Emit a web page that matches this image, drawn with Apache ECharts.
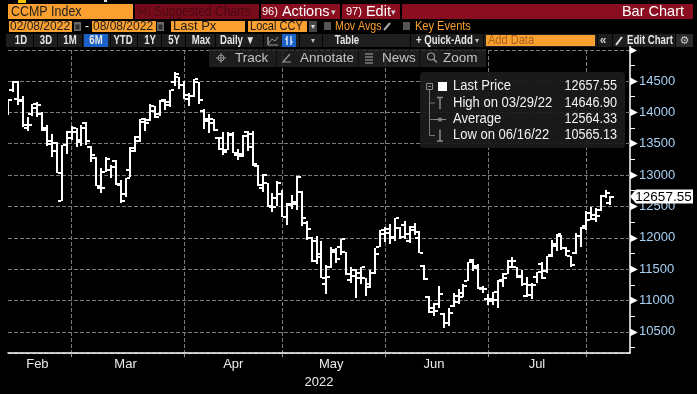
<!DOCTYPE html>
<html><head><meta charset="utf-8">
<script src="https://cdn.jsdelivr.net/npm/echarts@6/dist/echarts.min.js"></script>
<style>html,body{margin:0;padding:0;background:#000;}#c{width:697px;height:394px;}</style>
</head><body><div id="c"></div>
<script>
// ---------- DATA ----------
const dates = [
'2022-02-08','2022-02-09','2022-02-10','2022-02-11','2022-02-14','2022-02-15','2022-02-16','2022-02-17','2022-02-18','2022-02-22','2022-02-23','2022-02-24','2022-02-25','2022-02-28',
'2022-03-01','2022-03-02','2022-03-03','2022-03-04','2022-03-07','2022-03-08','2022-03-09','2022-03-10','2022-03-11','2022-03-14','2022-03-15','2022-03-16','2022-03-17','2022-03-18','2022-03-21','2022-03-22','2022-03-23','2022-03-24','2022-03-25','2022-03-28','2022-03-29','2022-03-30','2022-03-31',
'2022-04-01','2022-04-04','2022-04-05','2022-04-06','2022-04-07','2022-04-08','2022-04-11','2022-04-12','2022-04-13','2022-04-14','2022-04-18','2022-04-19','2022-04-20','2022-04-21','2022-04-22','2022-04-25','2022-04-26','2022-04-27','2022-04-28','2022-04-29',
'2022-05-02','2022-05-03','2022-05-04','2022-05-05','2022-05-06','2022-05-09','2022-05-10','2022-05-11','2022-05-12','2022-05-13','2022-05-16','2022-05-17','2022-05-18','2022-05-19','2022-05-20','2022-05-23','2022-05-24','2022-05-25','2022-05-26','2022-05-27','2022-05-31',
'2022-06-01','2022-06-02','2022-06-03','2022-06-06','2022-06-07','2022-06-08','2022-06-09','2022-06-10','2022-06-13','2022-06-14','2022-06-15','2022-06-16','2022-06-17','2022-06-21','2022-06-22','2022-06-23','2022-06-24','2022-06-27','2022-06-28','2022-06-29','2022-06-30',
'2022-07-01','2022-07-05','2022-07-06','2022-07-07','2022-07-08','2022-07-11','2022-07-12','2022-07-13','2022-07-14','2022-07-15','2022-07-18','2022-07-19','2022-07-20','2022-07-21','2022-07-22','2022-07-25','2022-07-26','2022-07-27','2022-07-28','2022-07-29',
'2022-08-01','2022-08-02','2022-08-03','2022-08-04','2022-08-05'];
const opens = [
14020,14364,14221,14196,13750,13981,14062,13978,13752,13501,13518,12587,13483,13593,
13679,13566,13837,13447,13272,12786,13050,13079,13224,12857,12690,13088,13382,13548,13852,13882,14017,13977,14187,14120,14479,14557,14436,
14274,14265,14479,14027,13856,13832,13591,13594,13399,13658,13314,13306,13691,13658,13144,12790,12879,12507,12640,12692,
12334,12516,12545,12733,12231,11990,11942,11693,11263,11533,11766,11857,11766,11322,11484,11441,11361,11213,11431,11850,12057,
12140,12011,12158,12198,11953,12124,12001,11546,11058,10887,10939,10778,10648,10906,10972,11120,11311,11650,11547,11196,11018,
10996,11008,11317,11423,11538,11536,11384,11068,11085,11366,11587,11476,11717,11863,12029,11835,11712,11756,12034,12185,
12281,12307,12440,12674,12556];
const highs = [
14217,14498,14508,14269,13923,14140,14172,14012,13794,13649,13528,13484,13698,13784,
13743,13798,13849,13464,13291,13116,13282,13168,13241,12917,12960,13445,13622,13894,13918,14136,14101,14194,14220,14355,14646.90,14568,14496,
14313,14539,14485,14047,13982,13887,13605,13691,13684,13680,13420,13644,13706,13710,13163,13013,12880,12717,12909,12765,
12548,12676,12983,12747,12273,12015,12025,11948,11573,11856,11837,11984,11768,11536,11506,11536,11361,11478,11836,12131,12165,
12224,12320,12175,12272,12187,12229,12108,11562,11064,10963,11234,10800,10877,11111,11180,11256,11608,11662,11575,11233,11096,
11135,11332,11432,11640,11698,11540,11483,11378,11282,11454,11611,11713,11959,12060,12042,11857,11712,12081,12174,12424,
12491,12474,12678,12755,12667];
const lows = [
13959,14324,14111,13762,13710,13948,13923,13700,13466,13286,13032,12587,13334,13556,
13443,13471,13479,13204,12830,12707,13050,12951,12835,12555,12648,12964,13363,13530,13704,13865,13917,13942,14030,14083,14419,14371,14220,
14098,14250,14137,13738,13673,13703,13398,13326,13394,13344,13242,13287,13376,13139,12833,12734,12490,12414,12507,12332,
12202,12458,12450,12193,11965,11610,11578,11364,11109,11524,11602,11728,11400,11276,11036,11262,11074,11192,11428,11850,11934,
11903,11947,11985,11973,11923,12041,11754,11326,10798,10752,10885,10565.13,10600,10900,10949,11051,11311,11464,11178,11119,10932,
10922,10880,11218,11417,11525,11359,11225,11049,11020,11274,11335,11437,11693,11781,11812,11711,11541,11740,11852,12130,
12278,12256,12426,12632,12522];
const closes = [
14194.45,14490.37,14185.64,13791.15,13790.92,14139.76,14124.09,13716.72,13548.07,13381.52,13037.49,13473.59,13694.62,13751.40,
13532.46,13752.02,13537.94,13313.44,12830.96,12795.55,13255.55,13129.96,12843.81,12581.22,12948.62,13436.55,13614.78,13893.84,13838.46,14108.82,13922.60,14191.84,14169.30,14354.90,14619.64,14442.27,14220.52,
14261.50,14532.55,14204.17,13888.82,13897.30,13711.00,13411.96,13371.57,13643.59,13351.08,13332.36,13619.66,13453.07,13174.65,12839.29,13004.85,12490.74,12488.93,12871.53,12334.64,
12536.02,12563.76,12964.86,12317.69,12144.66,11623.25,11737.67,11364.24,11370.96,11805.00,11662.79,11984.52,11418.15,11388.50,11354.62,11535.27,11264.45,11434.74,11740.65,12131.13,12081.39,
11994.46,12316.90,12012.73,12061.37,12175.23,12086.27,11754.23,11340.02,10809.23,10828.35,11099.15,10646.10,10798.35,11069.30,11053.08,11232.19,11607.62,11524.55,11181.54,11177.89,11028.74,
11127.85,11322.24,11361.85,11621.35,11635.31,11372.60,11264.73,11247.58,11251.19,11452.42,11360.05,11713.15,11897.65,12059.61,11834.11,11782.67,11562.58,12032.42,12162.59,12390.69,
12368.98,12348.76,12668.16,12720.58,12657.55];
const monthNames = ['Jan','Feb','Mar','Apr','May','Jun','Jul','Aug','Sep','Oct','Nov','Dec'];
const yTicks = [10500,11000,11500,12000,12500,13000,13500,14000,14500];
const yearLabel = '2022';
const legendLabels = ['Last Price','High on 03/29/22','Average','Low on 06/16/22'];
const legendValues = ['12657.55','14646.90','12564.33','10565.13'];
const lastPriceText = '12657.55';

// ---------- LAYOUT / STYLE ----------
const FONT = '"Liberation Sans", Arial, sans-serif';
const ORANGE = '#f9a030';
const GRIDC = '#7a7a7a';
const Y_MIN = 10160, Y_MAX = 14995;
const PAD = 4;

const cats = dates.concat(new Array(PAD).fill(''));
const monthEnds = new Set();
const labelAt = new Map();
(function(){
  let start = 0;
  for (let i = 0; i < dates.length - 1; i++) {
    if (dates[i].slice(5,7) !== dates[i+1].slice(5,7)) {
      monthEnds.add(i);
      labelAt.set(Math.floor((start + i) / 2), monthNames[+dates[i].slice(5,7) - 1]);
      start = i;
    }
  }
})();

const G = [];
function R(x,y,w,h,fill,r){ G.push({type:'rect',silent:true,z:50,shape:{x:x,y:y,width:w,height:h,r:r||0},style:{fill:fill}}); }
function T(x,y,text,o,sx){ G.push({type:'text',silent:true,z:52,x:x,y:y,scaleX:sx||1,style:Object.assign({text:text,fill:'#fff',font:'13px '+FONT,align:'left',verticalAlign:'middle'},o||{})}); }
function L(pts,stroke,w){ G.push({type:'polyline',silent:true,z:52,shape:{points:pts},style:{stroke:stroke,lineWidth:w||1,fill:null}}); }

// Row 0
R(18,0,8,3,'#f5c400'); R(104,0,3,2,'#ddd');
// Row 1
R(8,4,125,15,ORANGE); T(11,12,'CCMP Index',{fill:'#1c1c1c',font:'15px '+FONT},0.83);
R(135,4,124,15,'#780b1b'); T(137,12,'{a|94)} Suggested Charts',{fill:'#4c0912',font:'14px '+FONT,rich:{a:{fontSize:11,fill:'#4c0912',fontFamily:FONT}}},0.86);
R(261,4,79,15,'#8a0e20'); T(262,12,'{a|96)} Actions',{font:'14.5px '+FONT,rich:{a:{fontSize:11,fill:'#fff',fontFamily:FONT}}}); T(331,12.5,'▾',{fill:'#cfcfcf',font:'9px "DejaVu Sans"'});
R(342,4,58,15,'#8a0e20'); T(346,12,'{a|97)} Edit',{font:'14.5px '+FONT,rich:{a:{fontSize:11,fill:'#fff',fontFamily:FONT}}}); T(391,12.5,'▾',{fill:'#cfcfcf',font:'9px "DejaVu Sans"'});
R(402,4,291,15,'#8a0e20'); T(684,12,'Bar Chart',{align:'right',font:'14.5px '+FONT});
// Row 2
R(9,21,63,11,ORANGE); T(10,26.8,'02/08/2022',{fill:'#1c1c1c',font:'12px '+FONT});
R(74,22,7,9,'#6a6a6a'); R(75.5,24.5,4,5,'#2a2a2a');
T(85,26.5,'-',{font:'12px '+FONT});
R(92,21,64,11,ORANGE); T(93,26.8,'08/08/2022',{fill:'#1c1c1c',font:'12px '+FONT});
R(157,22,7,9,'#6a6a6a'); R(158.5,24.5,4,5,'#2a2a2a');
R(171,21,74,11,ORANGE); T(173,26.8,'Last Px',{fill:'#1c1c1c',font:'13px '+FONT});
R(248,21,59,11,ORANGE); T(250,26.8,'Local CCY',{fill:'#1c1c1c',font:'13px '+FONT},0.85);
R(309,21,8,11,'#454545'); T(313,27,'▾',{align:'center',fill:'#ddd',font:'8px "DejaVu Sans"'});
R(324,22,7,8,'#555');
T(335,26.8,'Mov Avgs',{fill:ORANGE,font:'13px '+FONT},0.82);
L([[384,30],[390,23]],'#aaa',2);
R(403,22,7,8,'#555');
T(415,26.8,'Key Events',{fill:ORANGE,font:'13px '+FONT},0.85);
// Row 3
R(6,34,687,13,'#1e1e1e');
[33,57,82,110,137,161,185,215,263,299,322,410,483,597,612,675].forEach(function(x){R(x,34,1,13,'#050505');});
R(84,34,24,13,'#1a62c6');
const B = {fill:'#e6e6e6',font:'bold 12px '+FONT};
[['1D',21],['3D',46],['1M',70],['6M',96],['YTD',123],['1Y',150],['5Y',174],['Max',201]].forEach(function(a){T(a[1],40.8,a[0],Object.assign({align:'center'},B),0.8);});
T(220,40.8,'Daily ▼',B,0.8);
L([[268,45],[268,37],[268,45],[278,45]],'#999',1); L([[269,43],[272,39],[275,41],[278,37]],'#999',1);
R(282,34,14,13,'#1a62c6'); L([[287,36],[287,45]],'#fff',1.2); L([[291,36],[291,45]],'#fff',1.2); L([[285,39],[287,39]],'#fff',1); L([[291,42],[293,42]],'#fff',1);
T(313,41,'▾',{align:'center',fill:'#bbb',font:'8px "DejaVu Sans"'});
T(347,40.8,'Table',Object.assign({align:'center'},B),0.8);
T(416,40.8,'+ Quick-Add',B,0.8); T(477,41,'▾',{align:'center',fill:'#bbb',font:'8px "DejaVu Sans"'});
R(486,35,109,11,ORANGE); T(488,40.8,'Add Data',{fill:'#a8611a',font:'13px '+FONT},0.85);
T(603,40.5,'«',{align:'center',fill:'#ccc',font:'bold 12px '+FONT});
L([[616,45],[622,37]],'#ddd',2);
T(627,40.8,'Edit Chart',B,0.8);
R(676,34,17,13,'#2b2b2b'); T(684.5,41,'⚙',{align:'center',fill:'#ccc',font:'11px "DejaVu Sans"'});
// Row 4 toolbar
R(209,49,277,18,'rgba(36,36,36,0.8)');
[276,358,419].forEach(function(x){R(x,50,1,16,'rgba(10,10,10,0.8)');});
G.push({type:'circle',silent:true,z:52,shape:{cx:221,cy:58,r:3},style:{stroke:'#999',fill:null,lineWidth:1}});
L([[216,58],[226,58]],'#999',1); L([[221,53],[221,63]],'#999',1);
T(235,58.5,'Track',{fill:'#c4c4c4',font:'13.5px '+FONT});
L([[290,54],[283,62],[291,62]],'#999',1.2);
T(300,58.5,'Annotate',{fill:'#c4c4c4',font:'13.5px '+FONT});
[54,57,60,63].forEach(function(y){L([[365,y],[373,y]],'#999',1.2);});
T(382,58.5,'News',{fill:'#c4c4c4',font:'13.5px '+FONT});
G.push({type:'circle',silent:true,z:52,shape:{cx:431,cy:56.5,r:3.5},style:{stroke:'#999',fill:null,lineWidth:1.2}});
L([[433.5,59],[437,62.5]],'#999',1.5);
T(443,58.5,'Zoom',{fill:'#c4c4c4',font:'13.5px '+FONT});
// y-axis top flag
G.push({type:'polygon',silent:true,z:52,shape:{points:[[630,47],[637,50.5],[630,54]]},style:{fill:'#fff'}});
R(629.3,46,1.5,6,'#fff');
// Legend box
R(420,72,205,76,'rgba(27,27,27,0.93)',4);
G.push({type:'rect',silent:true,z:52,shape:{x:426.5,y:83.5,width:6,height:6},style:{stroke:'#8a8a8a',fill:null,lineWidth:1}});
L([[428,86.5],[431,86.5]],'#8a8a8a',1);
L([[429.5,90],[429.5,135.5]],'#777',1);
[103,119.5,135.5].forEach(function(y){L([[429.5,y],[435,y]],'#777',1);});
G.push({type:'rect',silent:true,z:52,shape:{x:438,y:82,width:9,height:9},style:{fill:'#fff'}});
L([[437,97.5],[443,97.5]],'#8a8a8a',1.5); L([[440,97.5],[440,109]],'#8a8a8a',1.5);
L([[434,119.5],[446,119.5]],'#8a8a8a',1);
G.push({type:'circle',silent:true,z:53,shape:{cx:440,cy:119.5,r:2},style:{fill:'#8a8a8a'}});
L([[440,129.5],[440,141]],'#8a8a8a',1.5); L([[437,141],[443,141]],'#8a8a8a',1.5);
[86.5,103,119.5,135.5].forEach(function(y,i){
  T(453,y,legendLabels[i],{fill:'#f2f2f2',font:'14px '+FONT},0.93);
  T(617,y,legendValues[i],{align:'right',fill:'#f2f2f2',font:'14px '+FONT},0.9);
});

// ---------- CHART ----------
const chart = echarts.init(document.getElementById('c'));
const ohlc = dates.map(function(d,i){return [i, opens[i], highs[i], lows[i], closes[i]];});
const hLines = yTicks.concat([Y_MAX]).map(function(v){return {yAxis: v};});

chart.setOption({
  backgroundColor: '#000',
  animation: false,
  grid: {left: 8, right: 67, top: 50, bottom: 37},
  xAxis: {
    type: 'category', data: cats, boundaryGap: false,
    axisLine: {show: true, lineStyle: {color: '#fff', width: 1.5}},
    axisTick: {show: true, interval: function(i){return monthEnds.has(i);}, length: 4, lineStyle: {color: '#9a9a9a', width: 1}},
    splitLine: {show: true, interval: function(i){return monthEnds.has(i);}, lineStyle: {color: GRIDC, type: 'dashed', width: 1}},
    axisLabel: {show: true, interval: function(i){return labelAt.has(i);}, formatter: function(v,i){return labelAt.get(i)||'';},
      color: '#ececec', fontSize: 13, fontFamily: FONT, margin: 5},
    name: yearLabel, nameLocation: 'middle', nameGap: 18,
    nameTextStyle: {color: '#ececec', fontSize: 13, fontFamily: FONT}
  },
  yAxis: {
    type: 'value', position: 'right', min: Y_MIN, max: Y_MAX, splitNumber: 9,
    axisLine: {show: true, lineStyle: {color: '#fff', width: 1.5}},
    axisTick: {show: false},
    minorTick: {show: true, splitNumber: 2, length: 5, lineStyle: {color: '#fff', width: 1}},
    minorSplitLine: {show: false},
    splitLine: {show: true, lineStyle: {color: GRIDC, type: 'dashed', width: 1}},
    axisLabel: {show: true, margin: 0, showMinLabel: false, showMaxLabel: false,
      formatter: function(v){return '{t|\u25B6}{n|' + v + '}';},
      rich: {t: {color: '#fff', fontSize: 10, padding: [0,1,0,0]},
             n: {color: '#a8d0f2', fontSize: 13, fontFamily: FONT}}}
  },
  series: [{
    type: 'custom', data: ohlc, encode: {x: 0, y: [1,2,3,4]}, clip: true, z: 5,
    markLine: {
      silent: true, animation: false, symbol: 'none', label: {show: false},
      lineStyle: {color: GRIDC, type: 'dashed', width: 1},
      data: hLines
    },
    markPoint: {
      silent: true, animation: false,
      symbol: 'path://M0,7L6,0L63,0L63,14L6,14Z', symbolSize: [63,14], symbolOffset: [31.5,0], symbolKeepAspect: false,
      itemStyle: {color: '#fff'},
      label: {show: true, position: 'inside', color: '#000', fontSize: 13.5, fontFamily: FONT, offset: [2,0.5], formatter: lastPriceText},
      data: [{coord: [cats.length - 1, closes[closes.length - 1]]}]
    },
    renderItem: function(params, api){
      const i = api.value(0);
      const o = api.coord([i, api.value(1)]);
      const h = api.coord([i, api.value(2)]);
      const l = api.coord([i, api.value(3)]);
      const c = api.coord([i, api.value(4)]);
      const X = Math.round(o[0]);
      const yo = Math.round(o[1]), yc = Math.round(c[1]);
      const yh = Math.round(h[1]), yl = Math.round(l[1]);
      const st = {fill: '#fff'};
      return {type: 'group', children: [
        {type: 'rect', shape: {x: X-1, y: yh, width: 2, height: Math.max(1, yl-yh)}, style: st},
        {type: 'rect', shape: {x: X-4, y: yo-1, width: 3, height: 2}, style: st},
        {type: 'rect', shape: {x: X+1, y: yc-1, width: 3, height: 2}, style: st}
      ]};
    }
  }],
  graphic: G
});
</script></body></html>
